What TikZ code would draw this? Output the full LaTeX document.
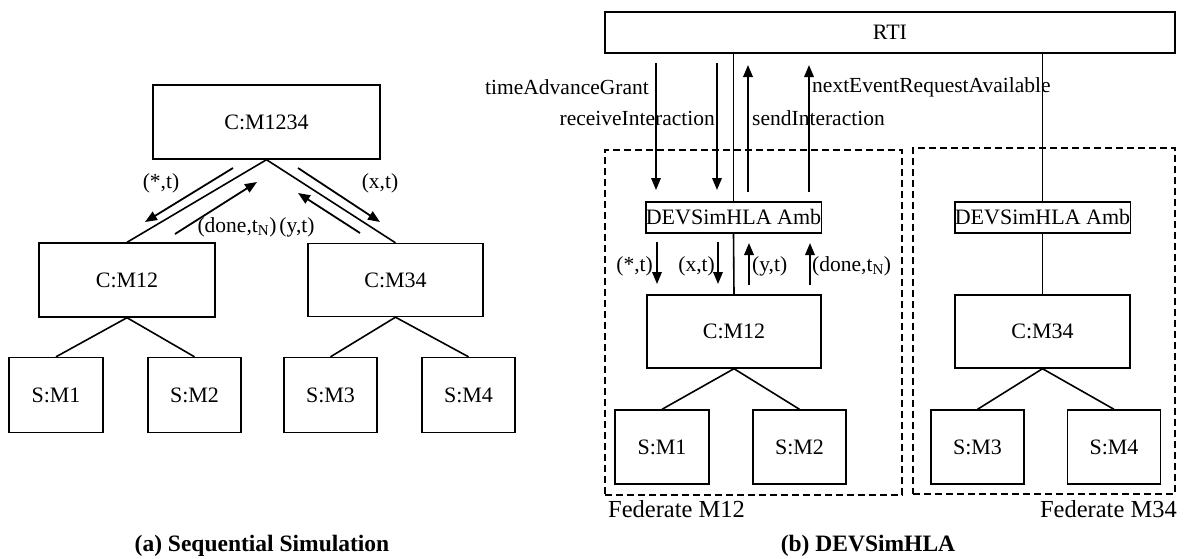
\documentclass[tikz,border=0pt]{standalone}
\usepackage{fontspec}
\setmainfont{Liberation Serif}
\usetikzlibrary{arrows.meta}
\begin{document}
\begin{tikzpicture}[x=1pt,y=-1pt,
  box/.style={draw, line width=1.4pt, inner sep=0pt, font=\fontsize{22}{26}\selectfont},
  conn/.style={line width=1.6pt},
  msg/.style={line width=1.8pt, -{Triangle[length=12pt,width=9.5pt]}},
  lbl/.style={inner sep=0pt, font=\fontsize{21.5}{25}\selectfont},
  fed/.style={draw, line width=1.3pt, dash pattern=on 7pt off 4pt, inner sep=0pt},
  fedlbl/.style={inner sep=0pt, font=\fontsize{24.5}{28}\selectfont},
  captext/.style={inner sep=0pt, font=\fontsize{23.5}{28}\selectfont\bfseries}]
\useasboundingbox (0,0) rectangle (1186,558);
% ---------- (a) Sequential Simulation ----------
\node[box, minimum width=227, minimum height=74] (c1234) at (266.5,122) {C:M1234};
\node[box, minimum width=176, minimum height=74] (c12) at (127,280) {C:M12};
\node[box, minimum width=175, minimum height=73] (c34) at (395.5,280) {C:M34};
\node[box, minimum width=94, minimum height=75] (s1) at (56,395) {S:M1};
\node[box, minimum width=93, minimum height=75] (s2) at (194.5,395) {S:M2};
\node[box, minimum width=93, minimum height=75] (s3) at (330.5,395) {S:M3};
\node[box, minimum width=93, minimum height=75] (s4) at (468.5,395) {S:M4};
\draw[conn] (c1234.south) -- (c12.north);
\draw[conn] (c1234.south) -- (c34.north);
\draw[conn] (c12.south) -- (s1.north);
\draw[conn] (c12.south) -- (s2.north);
\draw[conn] (c34.south) -- (s3.north);
\draw[conn] (c34.south) -- (s4.north);
\coordinate (a1s) at (233,168); \coordinate (a1e) at (145,222);
\coordinate (a2s) at (175,234); \coordinate (a2e) at (257,182);
\coordinate (a3s) at (360,233); \coordinate (a3e) at (298,193);
\coordinate (a4s) at (298,168); \coordinate (a4e) at (380,222);
\draw[msg] (a1s) -- (a1e);
\draw[msg] (a2s) -- (a2e);
\draw[msg] (a3s) -- (a3e);
\draw[msg] (a4s) -- (a4e);
\node[lbl] (l1) at (161,183) {(*,t)};
\node[lbl] (l2) at (380,183) {(x,t)};
\node[lbl] (l3) at (237,227) {(done,t$_{\mathrm{N}}$)};
\node[lbl] (l4) at (297,227) {(y,t)};
\node[captext] (capa) at (262,546) {(a) Sequential Simulation};
% ---------- (b) DEVSimHLA ----------
\node[box, minimum width=570, minimum height=41] (rti) at (890,32.5) {RTI};
\node[fed, minimum width=297, minimum height=345] (fed1) at (753.5,322.5) {};
\node[fed, minimum width=262, minimum height=346] (fed2) at (1044,321) {};
\node[box, minimum width=175, minimum height=31] (amb1) at (733.5,217.5) {DEVSimHLA Amb};
\node[box, minimum width=175, minimum height=31] (amb2) at (1042.5,217.5) {DEVSimHLA Amb};
\node[box, minimum width=174, minimum height=73] (rc12) at (734,331.5) {C:M12};
\node[box, minimum width=175, minimum height=73] (rc34) at (1042.5,331.5) {C:M34};
\node[box, minimum width=94, minimum height=74] (rs1) at (662,447) {S:M1};
\node[box, minimum width=93, minimum height=74] (rs2) at (799.5,447) {S:M2};
\node[box, minimum width=93, minimum height=74] (rs3) at (977.5,447) {S:M3};
\node[box, minimum width=93, minimum height=74] (rs4) at (1114,447) {S:M4};
\draw[conn] (amb1.north |- rti.south) -- (amb1.north);
\draw[conn] (amb2.north |- rti.south) -- (amb2.north);
\draw[conn] (amb1.south) -- (rc12.north);
\draw[conn] (amb2.south) -- (rc34.north);
\draw[conn] (rc12.south) -- (rs1.north);
\draw[conn] (rc12.south) -- (rs2.north);
\draw[conn] (rc34.south) -- (rs3.north);
\draw[conn] (rc34.south) -- (rs4.north);
% RTI <-> Amb messages
\coordinate (b1s) at (656,63);  \coordinate (b1e) at (656,190);
\coordinate (b2s) at (717,63);  \coordinate (b2e) at (717,190);
\coordinate (b3s) at (748,192); \coordinate (b3e) at (748,65);
\coordinate (b4s) at (809,192); \coordinate (b4e) at (809,65);
\draw[msg] (b1s) -- (b1e);
\draw[msg] (b2s) -- (b2e);
\draw[msg] (b3s) -- (b3e);
\draw[msg] (b4s) -- (b4e);
\node[lbl, anchor=east] (tag) at (649,87) {timeAdvanceGrant};
\node[lbl, anchor=east] (ri) at (715,118) {receiveInteraction};
\node[lbl, anchor=west] (si) at (752,118) {sendInteraction};
\node[lbl, anchor=west] (ner) at (812,87) {nextEventRequestAvailable};
% Amb <-> C:M12 messages
\coordinate (c1s) at (657,242); \coordinate (c1e) at (657,284);
\coordinate (c2s) at (718,242); \coordinate (c2e) at (718,284);
\coordinate (c3s) at (749,285); \coordinate (c3e) at (749,243);
\coordinate (c4s) at (810,285); \coordinate (c4e) at (810,243);
\draw[msg] (c1s) -- (c1e);
\draw[msg] (c2s) -- (c2e);
\draw[msg] (c3s) -- (c3e);
\draw[msg] (c4s) -- (c4e);
\node[lbl, anchor=east] (m1) at (653,266) {(*,t)};
\node[lbl, anchor=east] (m2) at (715,266) {(x,t)};
\node[lbl, anchor=west] (m3) at (752,266) {(y,t)};
\node[lbl, anchor=west] (m4) at (812,266) {(done,t$_{\mathrm{N}}$)};
\node[fedlbl, anchor=west] (f1l) at (608,509) {Federate M12};
\node[fedlbl, anchor=east] (f2l) at (1177,509) {Federate M34};
\node[captext] (capb) at (868,546) {(b) DEVSimHLA};
\end{tikzpicture}
\end{document}
